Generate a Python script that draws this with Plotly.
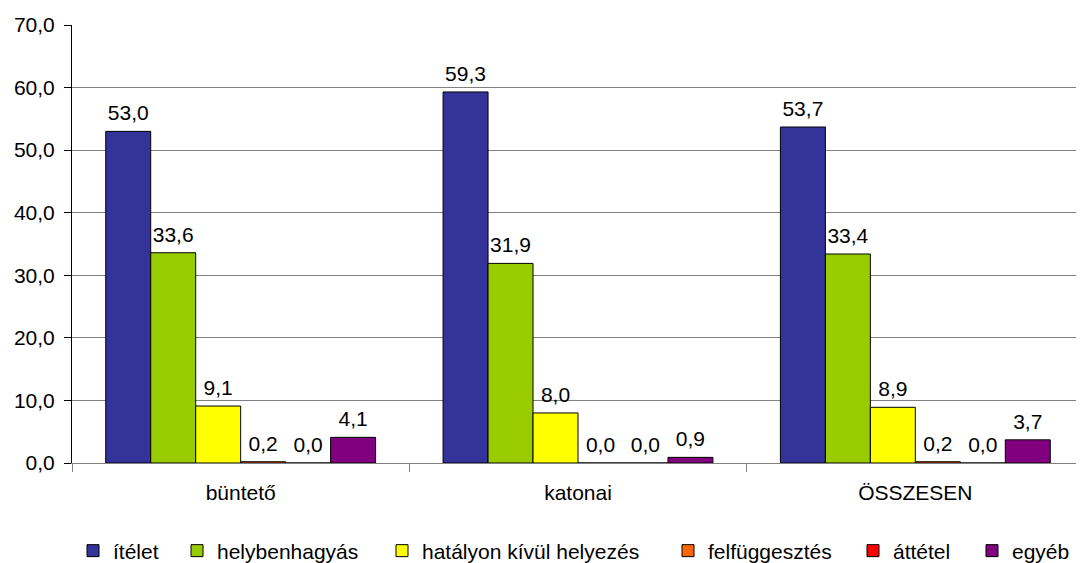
import plotly.graph_objects as go

categories = ["büntető", "katonai", "ÖSSZESEN"]
series_names = ["ítélet", "helybenhagyás", "hatályon kívül helyezés", "felfüggesztés", "áttétel", "egyéb"]
itelet = [53.0, 59.3, 53.7]
helybenhagyas = [33.6, 31.9, 33.4]
hatalyon_kivul = [9.1, 8.0, 8.9]
felfuggesztes = [0.2, 0.0, 0.2]
attetel = [0.0, 0.0, 0.0]
egyeb = [4.1, 0.9, 3.7]
colors = ["#333399", "#99CC00", "#FFFF00", "#FF6600", "#FF0000", "#800080"]
y_ticks = [0, 10, 20, 30, 40, 50, 60, 70]

values = [itelet, helybenhagyas, hatalyon_kivul, felfuggesztes, attetel, egyeb]
FONT = "Liberation Sans, Arial, sans-serif"

W, H = 1076, 555  # page body has an 8px margin
legend_x_px = [84, 188, 393, 679, 864, 983]  # swatch left edges (figure px)

fig = go.Figure()
legend_layouts = {}
for i, (name, vals, col) in enumerate(zip(series_names, values, colors)):
    lname = "legend" if i == 0 else f"legend{i+1}"
    fig.add_trace(go.Bar(
        x=categories, y=vals, name=name,
        marker=dict(color=col, line=dict(color="black", width=1)),
        legend=lname,
    ))
    legend_layouts[lname] = dict(
        orientation="h", x=(legend_x_px[i] - 19) / W, xanchor="left", xref="container",
        y=12 / H, yanchor="middle", yref="container",
        font=dict(size=21, family=FONT), itemwidth=30, bgcolor="rgba(0,0,0,0)",
    )

# value labels, grouped like the bars
for name, vals in zip(series_names, values):
    fig.add_trace(go.Scatter(
        x=categories, y=vals, mode="markers+text", name=name + " címke",
        marker=dict(size=8, opacity=0, color="white"),
        text=vals, texttemplate="%{y:.1f}", textposition="top center",
        textfont=dict(color="black", size=21, family=FONT),
        cliponaxis=False, showlegend=False, hoverinfo="skip",
    ))

fig.update_layout(
    width=W, height=H,
    barmode="group", bargap=0.2, bargroupgap=0,
    scattermode="group", scattergap=0.2,
    separators=", ",
    plot_bgcolor="white", paper_bgcolor="white",
    margin=dict(l=64, r=0, t=17, b=100, autoexpand=False),
    font=dict(family=FONT, size=21, color="black"),
    yaxis=dict(range=[0, 70], tickvals=y_ticks, tickformat=".1f",
               showgrid=True, gridcolor="#808080", gridwidth=1,
               showline=True, linecolor="black", linewidth=1,
               ticks="outside", ticklen=7, tickcolor="black",
               ticklabelstandoff=5,
               zeroline=False, automargin=False),
    xaxis=dict(showline=True, linecolor="#808080", linewidth=1,
               ticks="outside", tickson="boundaries", ticklen=8, tickcolor="#808080",
               ticklabelstandoff=11, automargin=False),
    showlegend=True,
    **legend_layouts,
)

fig.write_html("out.html")
